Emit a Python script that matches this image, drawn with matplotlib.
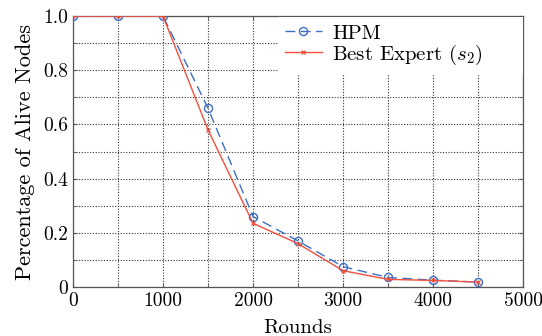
import matplotlib
matplotlib.use("Agg")
import matplotlib.pyplot as plt
import numpy as np

rounds = [0, 500, 1000, 1500, 2000, 2500, 3000, 3500, 4000, 4500]
hpm = [1.0, 1.0, 1.0, 0.66, 0.26, 0.17, 0.075, 0.035, 0.025, 0.018]
best = [1.0, 1.0, 1.0, 0.58, 0.235, 0.16, 0.06, 0.028, 0.024, 0.018]
xticks = [0, 1000, 2000, 3000, 4000, 5000]
yticks = [0, 0.2, 0.4, 0.6, 0.8, 1.0]
ytick_labels = ["0", "0.2", "0.4", "0.6", "0.8", "1.0"]

plt.rcParams['font.family'] = ['cmr10', 'DejaVu Serif']
plt.rcParams['mathtext.fontset'] = 'cm'
plt.rcParams['axes.unicode_minus'] = False

fig = plt.figure(figsize=(5.42, 3.36), dpi=100)
ax = fig.add_axes([0.1347, 0.146, 0.8303, 0.806])

ax.plot(rounds, hpm, color='#3d6fc8', linestyle=(0, (7, 4)), linewidth=1.0,
        marker='o', markersize=5.8, markerfacecolor='none', markeredgewidth=1.0,
        label='HPM', zorder=3)
ax.plot(rounds, best, color='#f0503c', linestyle='-', linewidth=1.0,
        marker='x', markersize=3.2, markeredgewidth=0.9,
        label=r'Best Expert ($s_2$)', zorder=3)

ax.set_xlim(0, 5000)
ax.set_ylim(0, 1.0)
ax.set_xticks(xticks)
ax.set_xticklabels([str(t) for t in xticks])
ax.set_yticks(yticks)
ax.set_yticklabels(ytick_labels)
ax.set_xticks(np.arange(0, 5001, 500), minor=True)
ax.set_yticks(np.arange(0, 1.01, 0.1), minor=True)
ax.grid(True, which='both', linestyle=(0, (1, 1.5)), color='#333333', linewidth=0.8)
ax.set_axisbelow(True)
ax.tick_params(which='both', direction='in', top=True, right=True, length=3,
               labelsize=14, color='#555555')
ax.tick_params(axis='x', pad=4)
for s in ax.spines.values():
    s.set_color('#555555')
    s.set_linewidth(0.9)

ax.set_xlabel('Rounds', fontsize=15, labelpad=6)
ax.set_ylabel('Percentage of Alive Nodes', fontsize=16, labelpad=6)

leg = ax.legend(loc='upper left', bbox_to_anchor=(0.455, 0.0, 0.545, 0.998),
                mode='expand', frameon=True,
                fontsize=15, handlelength=1.75, borderpad=0.35, labelspacing=0.0,
                handletextpad=0.5, fancybox=False, borderaxespad=0.0)
leg.get_frame().set_edgecolor('none')
leg.get_frame().set_facecolor('white')
leg.get_frame().set_alpha(1.0)

fig.savefig('out.png', dpi=100)
